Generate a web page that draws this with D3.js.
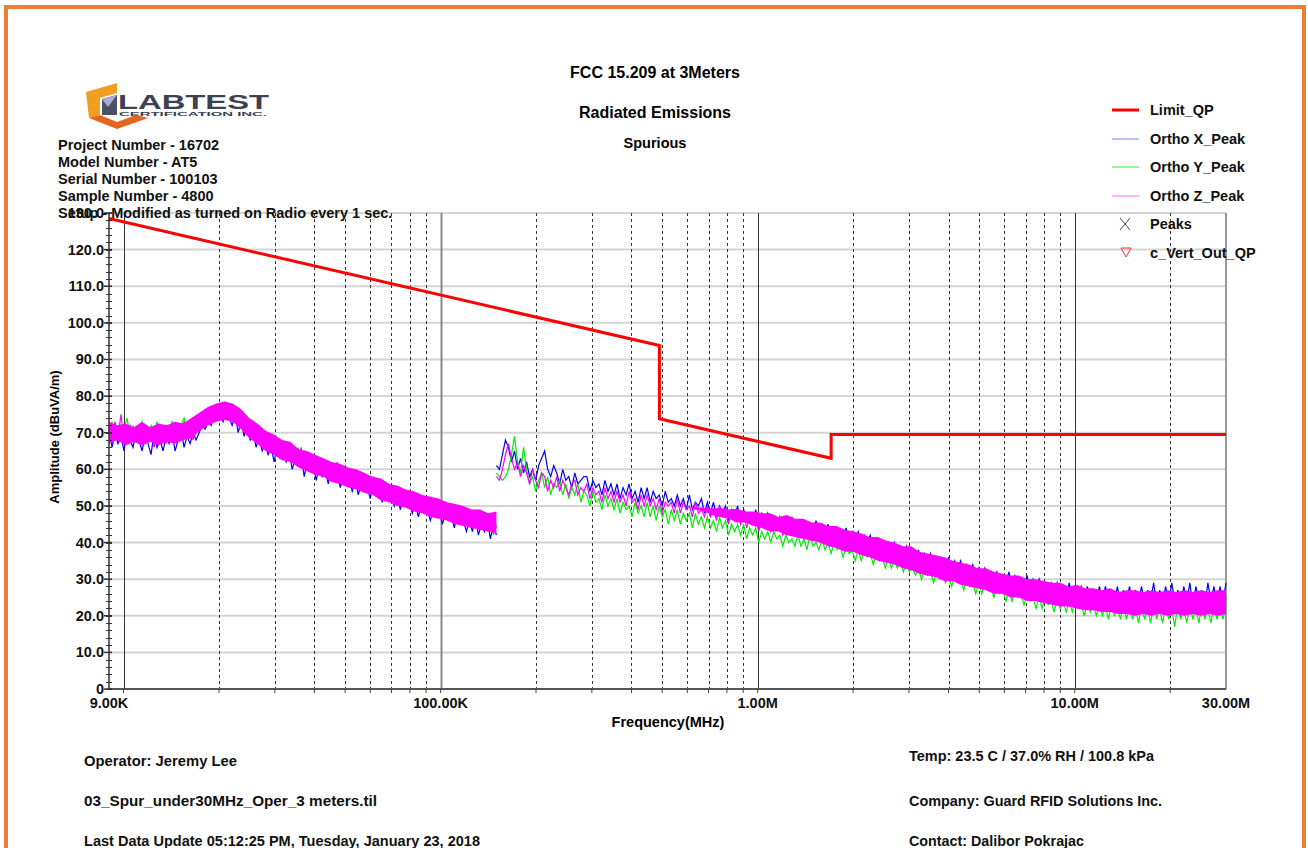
<!DOCTYPE html>
<html><head><meta charset="utf-8">
<script src="https://cdn.jsdelivr.net/npm/d3@7"></script>
<style>
body{margin:0;background:#fff;}
svg{display:block;font-family:"Liberation Sans",Arial,sans-serif;}
</style></head><body>
<svg id="c" width="1308" height="848"></svg>
<script>
// ---------------- DATA ----------------
const titleLines = ["FCC 15.209 at 3Meters", "Radiated Emissions", "Spurious"];
const infoLines = ["Project Number - 16702", "Model Number - AT5", "Serial Number - 100103",
  "Sample Number - 4800", "Setup - Modified as turned on Radio every 1 sec."];
const footerLeft = ["Operator: Jeremy Lee", "03_Spur_under30MHz_Oper_3 meters.til",
  "Last Data Update 05:12:25 PM, Tuesday, January 23, 2018"];
const footerRight = ["Temp: 23.5 C / 37.0% RH / 100.8 kPa", "Company: Guard RFID Solutions Inc.",
  "Contact: Dalibor Pokrajac"];
const legendNames = ["Limit_QP", "Ortho X_Peak", "Ortho Y_Peak", "Ortho Z_Peak", "Peaks", "c_Vert_Out_QP"];
const yTickValues = [0, 10, 20, 30, 40, 50, 60, 70, 80, 90, 100, 110, 120, 130];
const xTickValues = [9e3, 1e5, 1e6, 1e7, 3e7];
const xTickLabels = ["9.00K", "100.00K", "1.00M", "10.00M", "30.00M"];
const yLabel = "Amplitude (dBuVA/m)";
const xLabel = "Frequency(MHz)";

const limitFreq = [9e3, 490e3, 490e3, 1705e3, 1705e3, 30e6];
const limitQP = [128.5, 93.8, 73.8, 63.0, 69.5, 69.5];

// sweep segments (start, stop in Hz)
const sweep1 = [9e3, 150e3];
const sweep2 = [150e3, 30e6];
const sweep2Dense = [600e3, 30e6];

// peak readings (dBuV/m), segment 1 (9 kHz - 150 kHz)
const orthoX1 = [72,66,70,67,69,65,71,68,66,70, 68,65,69,67,64,70,66,68,65,69,
  67,70,65,68,71,66,69,67,70,68, 70,72,71,73,72,75,74,75,73,76,
  74,72,75,70,73,69,72,68,70,66, 69,65,67,64,66,62,67,63,64,62,
  65,60,63,61,64,58,62,60,61,57, 61,58,60,56,60,57,59,55,58,56,
  57,54,57,53,56,54,55,52,56,53, 55,51,54,52,53,50,53,49,52,50,
  51,48,51,47,50,48,49,46,49,47, 49,45,48,46,47,44,48,45,46,43,
  46,43,47,42,45,43,46,41,45,42];
const orthoY1 = [70,73,69,72,68,71,74,69,72,68, 71,73,68,70,72,69,73,70,68,72,
  70,73,71,69,72,74,70,72,73,71, 74,73,75,74,76,75,77,76,78,77,
  76,77,74,76,73,75,72,73,70,72, 69,71,67,70,66,69,65,68,66,67,
  64,67,63,66,62,65,63,64,61,63, 60,63,59,62,60,61,58,61,58,60,
  57,59,56,59,55,58,56,57,54,57, 55,56,53,56,52,55,52,54,51,53,
  50,53,50,52,49,51,48,51,48,50, 48,50,47,49,46,49,46,48,45,47,
  45,48,44,47,44,46,43,47,42,45];
const orthoZ1 = [71,68,73,69,75,67,70,72,68,71, 67,70,72,68,71,66,69,72,70,67,
  71,69,72,68,70,73,69,71,68,72, 71,74,73,75,74,77,75,76,78,76,
  77,75,76,73,75,72,73,71,72,69, 71,68,69,66,69,65,68,64,67,65,
  66,63,65,62,66,61,64,62,63,60, 63,59,62,60,61,58,62,57,60,58,
  59,56,58,55,59,56,57,54,58,55, 57,53,56,54,55,52,55,51,54,52,
  53,50,53,49,52,50,51,48,51,49, 51,47,50,48,49,46,50,47,48,46,
  48,45,49,44,47,45,48,43,47,44];

// peak readings (dBuV/m), segment 2 (150 kHz - 30 MHz)
const orthoX2 = [61,60,64,68,66,62,65,60,63,59, 62,58,60,57,61,63,65,60,58,61,
  59,56,60,57,58,55,59,56,57,58, 58,54,57,55,56,53,57,54,56,53,
  56,52,55,53,56,52,54,51,55,52, 55,51,54,52,53,50,54,51,52,50,
  53,50,52,49,53,49,51,50,52,48, 51,48,51,47,50,48,50,46,49,47,
  50,46,49,47,48,45,49,46,48,45, 48,45,47,44,47,45,46,43,47,44,
  46,43,46,44,45,42,46,43,45,42, 45,41,44,42,43,41,44,40,43,41,
  43,39,42,40,42,38,41,39,40,38, 40,37,40,37,39,36,39,36,38,35,
  38,34,37,35,37,33,36,34,35,33, 36,32,35,33,35,31,34,32,34,31,
  33,30,33,31,32,29,32,30,31,29, 32,28,31,29,30,28,31,27,30,28,
  30,26,29,27,29,26,29,26,28,25, 29,25,28,26,28,24,28,25,27,24,
  28,24,28,25,27,24,28,23,27,24, 28,23,27,24,28,23,27,24,29,23,
  27,24,28,23,29,24,27,23,28,24, 29,23,28,24,27,23,29,24,28,23,
  28,24,29];
const orthoY2 = [59,58,57,58,60,64,69,62,59,66, 60,56,58,54,57,59,55,58,53,56,
  55,57,53,56,52,55,53,56,51,54, 53,50,54,51,52,49,53,50,52,49,
  52,48,51,49,50,47,51,48,50,47, 51,47,50,46,50,47,49,45,49,46,
  49,45,48,46,48,44,48,45,47,44, 47,44,46,43,47,44,46,42,45,43,
  45,42,45,41,44,42,44,40,43,41, 43,40,43,41,42,39,42,40,41,39,
  42,39,41,38,42,39,40,38,41,38, 40,37,40,38,39,36,39,37,38,35,
  38,35,38,36,37,34,37,35,36,33, 36,33,35,33,35,32,34,32,33,31,
  33,30,33,31,32,29,32,30,31,29, 31,28,31,29,30,27,30,28,29,26,
  29,26,29,27,28,25,28,26,27,24, 27,24,27,25,26,23,26,24,25,22,
  25,22,25,23,24,21,25,22,24,21, 24,21,24,22,23,20,24,21,23,20,
  23,20,23,19,23,20,22,19,23,19, 23,19,22,18,23,19,22,18,23,19,
  22,18,23,19,22,17,23,19,22,18, 23,19,22,18,23,19,22,18,23,19,
  22,19,23];
const orthoZ2 = [58,57,60,64,67,63,60,62,58,61, 59,56,60,57,55,59,58,54,57,55,
  58,54,57,55,53,56,57,53,55,54, 56,52,55,53,54,51,55,52,54,51,
  54,51,53,50,54,51,52,49,53,50, 53,50,52,49,52,48,51,50,51,48,
  52,48,51,49,50,47,51,48,49,47, 50,47,49,46,50,47,48,45,49,46,
  48,45,48,44,47,45,47,43,46,44, 46,43,46,44,45,42,45,43,44,42,
  45,42,44,41,45,42,43,41,44,41, 43,40,43,41,42,39,42,40,41,39,
  41,38,41,39,40,37,40,38,39,37, 39,36,38,36,38,35,37,35,36,34,
  36,33,36,34,35,32,35,33,34,32, 34,31,34,32,33,30,33,31,32,30,
  32,29,32,29,31,28,31,29,30,28, 30,27,30,28,29,26,29,27,28,26,
  28,25,28,26,27,25,28,24,27,25, 27,24,27,25,26,23,27,24,26,23,
  26,23,26,22,26,23,25,22,26,22, 25,22,26,21,25,22,26,21,25,22,
  26,21,25,22,26,21,25,20,26,22, 25,21,26,22,25,20,26,21,25,22,
  26,21,25];

// dense-trace core of Ortho Z (min / max of the overlapping sweep points)
const coreZHi1 = [73,72,72.5,71.5,73,71.5,72.5,72,73,72.5, 74,75.5,77,78,78.5,78,76.5,74,72.5,70.5,
  69.5,68,67.5,65.5,65,64,63,62,61.5,60.5, 60,59,58,57.5,56,55.5,54.5,54,53,52.5,
  52,51,50.5,50,49,49,48,48.5];
const coreZLo1 = [67,68,66.5,67.5,66.5,67.5,66.5,67.5,67,68, 68.5,70.5,72,73,73.5,73,71,68.5,67,65,
  64,62.5,62,60.5,59.5,58.5,58,56.5,56,55, 54.5,53.5,53,51.5,51,50,49.5,48.5,48,47,
  46.5,46,45,44.5,44,43.5,43,42.5];
const coreZHi2 = [49.7,49.7,49.5,49.3,49.5,49,49.2,48.5,48.5,48, 48,47,47.5,46.5,46.5,45.5,45.5,44.5,44.5,43.5,
  43,42.5,41.5,41.5,40.5,40,39,39,37.5,37, 36.5,36,35,34.5,34,33,33,32,31.5,31,
  31,30,30,29.5,29,29,28,28.5,27.5,27.5, 27,27.5,26.5,27,27,26.5,27,26.5,27,26.5,
  27,26.5,27,26.5,27,27];
const coreZLo2 = [49.7,49,48.5,47.5,47,46.5,45.5,45.5,44.5,44, 43,43,42,41.5,41,40.5,40,39,38.5,37.5,
  37.5,36.5,36,35,34.5,34,33,32.5,31.5,31, 30.5,29.5,29.5,28.5,28,27.5,27,26,26,25,
  25,24,24,23.5,23,22.5,22.5,22,21.5,21.5, 21,21,20.5,20.5,20,20.5,20,20.5,20,20.5,
  20,20.5,20,20.5,20,20.5];

const seriesColors = {X: "#0000ff", Y: "#00ee00", Z: "#ff00ff", limit: "#ff0000"};

// ---------------- CHART ----------------
const svg = d3.select("#c");
const FONT = "bold 14.5px 'Liberation Sans', Arial, sans-serif";

// orange page border
svg.append("rect").attr("x", 6).attr("y", 7).attr("width", 1298).attr("height", 900)
  .attr("fill", "none").attr("stroke", "#ED7D31").attr("stroke-width", 4);

const x = d3.scaleLog().domain([9e3, 30e6]).range([109, 1226]);
const y = d3.scaleLinear().domain([0, 130]).range([689, 213]);

// horizontal grid
svg.append("g").selectAll("line").data(yTickValues.filter(v => v > 0)).join("line")
  .attr("x1", x(9e3)).attr("x2", x(30e6)).attr("y1", d => y(d)).attr("y2", d => y(d))
  .attr("stroke", "#d4d4d4").attr("stroke-width", 2);

// vertical grid
const minorF = [], majorF = [];
[1e3, 1e4, 1e5, 1e6, 1e7].forEach(dec => {
  for (let k = 1; k <= 9; k++) {
    const f = k * dec;
    if (f <= 9e3 || f >= 30e6) continue;
    (k === 1 ? majorF : minorF).push(f);
  }
});
svg.append("g").selectAll("line").data(minorF).join("line")
  .attr("x1", d => Math.round(x(d)) + 0.5).attr("x2", d => Math.round(x(d)) + 0.5)
  .attr("y1", y(130)).attr("y2", y(0))
  .attr("stroke", "#333").attr("stroke-width", 1).attr("stroke-dasharray", "3,3");
svg.append("g").selectAll("line").data(majorF).join("line")
  .attr("x1", d => Math.round(x(d)) + 0.5).attr("x2", d => Math.round(x(d)) + 0.5)
  .attr("y1", y(130)).attr("y2", y(0))
  .attr("stroke", d => d === 1e5 ? "#8a8a8a" : "#333")
  .attr("stroke-width", d => d === 1e5 ? 2 : 1);

// right frame
svg.append("line").attr("x1", x(30e6)).attr("x2", x(30e6)).attr("y1", y(130)).attr("y2", y(0))
  .attr("stroke", "#9a9a9a").attr("stroke-width", 2);

// data traces
function grid(sw, n) {
  const l0 = Math.log10(sw[0]), l1 = Math.log10(sw[1]);
  return d3.range(n).map(i => Math.pow(10, l0 + (l1 - l0) * i / (n - 1)));
}
const line = d3.line().x(d => x(d[0])).y(d => y(d[1]));
const area = d3.area().x(d => x(d.f)).y0(d => y(d.lo)).y1(d => y(d.hi));
const traceG = svg.append("g");
function drawTrace(sw, vals, color) {
  const f = grid(sw, vals.length);
  traceG.append("path").attr("d", line(vals.map((v, i) => [f[i], v])))
    .attr("fill", "none").attr("stroke", color).attr("stroke-width", 1.2);
}
function drawCore(sw, lo, hi, color) {
  const f = grid(sw, lo.length);
  traceG.append("path").attr("d", area(f.map((ff, i) => ({f: ff, lo: lo[i], hi: hi[i]}))))
    .attr("fill", color).attr("stroke", "none");
}
drawTrace(sweep1, orthoX1, seriesColors.X);
drawTrace(sweep2, orthoX2, seriesColors.X);
drawTrace(sweep1, orthoY1, seriesColors.Y);
drawTrace(sweep2, orthoY2, seriesColors.Y);
drawCore(sweep1, coreZLo1, coreZHi1, seriesColors.Z);
drawCore(sweep2Dense, coreZLo2, coreZHi2, seriesColors.Z);
drawTrace(sweep1, orthoZ1, seriesColors.Z);
drawTrace(sweep2, orthoZ2, seriesColors.Z);

// limit line
svg.append("path").attr("d", line(limitQP.map((v, i) => [limitFreq[i], v])))
  .attr("fill", "none").attr("stroke", seriesColors.limit).attr("stroke-width", 3);

// axes
svg.append("line").attr("x1", x(9e3)).attr("x2", x(30e6)).attr("y1", y(0)).attr("y2", y(0))
  .attr("stroke", "#555").attr("stroke-width", 2);
svg.append("line").attr("x1", x(9e3)).attr("x2", x(9e3)).attr("y1", y(130)).attr("y2", y(0))
  .attr("stroke", "#333").attr("stroke-width", 1.5);

// y minor ticks (every 2)
const yMinor = [];
for (let v = 0; v <= 130; v += 2) yMinor.push(v);
svg.append("g").selectAll("line").data(yMinor).join("line")
  .attr("x1", x(9e3) - 3).attr("x2", x(9e3) + 3)
  .attr("y1", d => Math.round(y(d)) + 0.5).attr("y2", d => Math.round(y(d)) + 0.5)
  .attr("stroke", "#333").attr("stroke-width", 1);
svg.append("g").selectAll("line").data(yTickValues).join("line")
  .attr("x1", x(9e3) - 5).attr("x2", x(9e3) + 3)
  .attr("y1", d => y(d)).attr("y2", d => y(d))
  .attr("stroke", "#333").attr("stroke-width", 1.5);

// y tick labels
svg.append("g").selectAll("text").data(yTickValues).join("text")
  .attr("x", x(9e3) - 5).attr("y", d => y(d) + 5)
  .attr("text-anchor", "end").style("font", FONT).attr("fill", "#111")
  .text(d => d === 0 ? "0" : d.toFixed(1));

// x tick marks
svg.append("g").selectAll("line").data(minorF.concat(majorF)).join("line")
  .attr("x1", d => x(d)).attr("x2", d => x(d)).attr("y1", y(0)).attr("y2", y(0) + 4)
  .attr("stroke", "#444").attr("stroke-width", 1);

// x tick labels
svg.append("g").selectAll("text").data(xTickValues).join("text")
  .attr("x", d => x(d)).attr("y", 708)
  .attr("text-anchor", "middle").style("font", FONT).attr("fill", "#111")
  .text((d, i) => xTickLabels[i]);

// axis titles
svg.append("text").attr("x", 668).attr("y", 727).attr("text-anchor", "middle")
  .style("font", FONT).text(xLabel);
svg.append("text").attr("transform", "translate(59,437) rotate(-90)").attr("text-anchor", "middle")
  .style("font", "bold 13px 'Liberation Sans', Arial, sans-serif").text(yLabel);

// titles
const titleY = [78, 118, 148];
svg.append("g").selectAll("text").data(titleLines).join("text")
  .attr("x", 655).attr("y", (d, i) => titleY[i]).attr("text-anchor", "middle")
  .style("font", (d, i) => i === 2 ? FONT : "bold 16px 'Liberation Sans', Arial, sans-serif")
  .text(d => d);

// info lines
svg.append("g").selectAll("text").data(infoLines).join("text")
  .attr("x", 58).attr("y", (d, i) => 150 + i * 17)
  .style("font", FONT).attr("fill", "#111").text(d => d);

// legend
const lg = svg.append("g");
const legY = [110, 139, 167, 196, 224, 253];
const legStyles = [
  {c: "#ff0000", w: 3}, {c: "#7a7aff", w: 1}, {c: "#33ee33", w: 1}, {c: "#ff66ff", w: 1}
];
legendNames.forEach((n, i) => {
  const yy = legY[i];
  if (i < 4) {
    lg.append("line").attr("x1", 1112).attr("x2", 1139).attr("y1", yy).attr("y2", yy)
      .attr("stroke", legStyles[i].c).attr("stroke-width", legStyles[i].w);
  } else if (i === 4) {
    lg.append("path").attr("d", `M1120,${yy-6}L1130,${yy+6}M1130,${yy-6}L1120,${yy+6}`)
      .attr("stroke", "#444").attr("stroke-width", 1).attr("fill", "none");
  } else {
    lg.append("path").attr("d", `M1121,${yy-5}L1131,${yy-5}L1126,${yy+4}Z`)
      .attr("stroke", "#ff3333").attr("stroke-width", 1).attr("fill", "none");
  }
  lg.append("text").attr("x", 1150).attr("y", yy + 5).style("font", FONT).attr("fill", "#111").text(n);
});

// footer (condensed bold)
const FOOT = "bold 14.5px 'Liberation Sans Narrow', 'Liberation Sans', Arial, sans-serif";
const footLW = [153, 293, 396], footRW = [245, 253, 175];
const footY = [766, 806, 846], footRY = [761, 806, 846];
svg.append("g").selectAll("text").data(footerLeft).join("text")
  .attr("x", 84).attr("y", (d, i) => footY[i]).attr("textLength", (d, i) => footLW[i])
  .attr("lengthAdjust", "spacingAndGlyphs")
  .style("font", FOOT).attr("fill", "#111").text(d => d);
svg.append("g").selectAll("text").data(footerRight).join("text")
  .attr("x", 909).attr("y", (d, i) => footRY[i]).attr("textLength", (d, i) => footRW[i])
  .attr("lengthAdjust", "spacingAndGlyphs")
  .style("font", FOOT).attr("fill", "#111").text(d => d);

// logo
const logo = svg.append("g");
logo.append("path").attr("d", "M86,92 L117,83 L117,93 L100,98 L100,115 L89,118 Z").attr("fill", "#f0a020");
logo.append("path").attr("d", "M102,99 L117,95 L117,115 L102,115 Z").attr("fill", "#4a5266");
logo.append("path").attr("d", "M102,99 L117,95 L108,107 Z").attr("fill", "#a9a9dd");
logo.append("path").attr("d", "M89,118 L117,129 L148,118 L136,115 L117,122 L100,115 Z").attr("fill", "#e8641e");
logo.append("text").attr("x", 118).attr("y", 109).attr("textLength", 151).attr("lengthAdjust", "spacingAndGlyphs")
  .style("font", "bold 21px 'Liberation Sans', Arial, sans-serif").attr("fill", "#3b4150").text("LABTEST");
logo.append("text").attr("x", 119).attr("y", 116).attr("textLength", 148).attr("lengthAdjust", "spacingAndGlyphs")
  .style("font", "bold 5px 'Liberation Sans', Arial, sans-serif").attr("fill", "#3b4150").text("CERTIFICATION INC.");
</script>
</body></html>
